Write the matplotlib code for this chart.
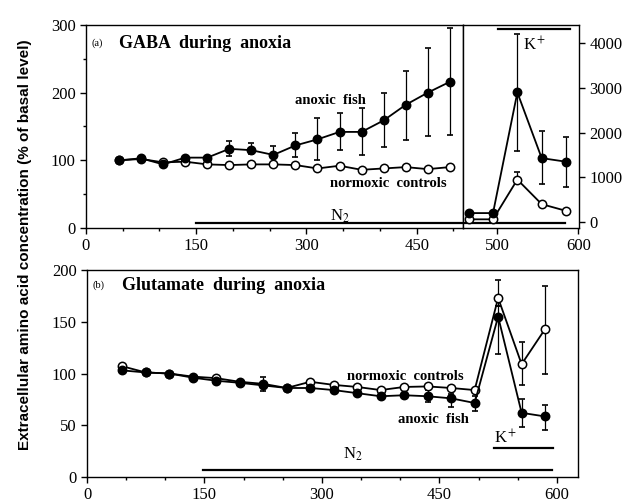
import numpy as np
import matplotlib
matplotlib.use("Agg")
import matplotlib.pyplot as plt
from matplotlib.ticker import MultipleLocator

plt.rcParams['font.family'] = ['Liberation Serif', 'DejaVu Serif']
plt.rcParams['mathtext.fontset'] = 'stix'

# --- GABA (top), time in minutes
t_gaba = [45, 75, 105, 135, 165, 195, 225, 255, 285, 315, 345, 375, 405, 435, 465, 495]
gaba_anoxic = [100, 103, 94, 104, 104, 117, 115, 108, 122, 131, 142, 142, 159, 182, 200, 216]
gaba_anoxic_hi = [np.nan] * 5 + [129, 125, 121, 140, 162, 170, 178, 199, 232, 266, 296]
gaba_anoxic_lo = [np.nan] * 5 + [107, 109, 103, 105, 101, 115, 108, 120, 130, 136, 137]
gaba_normoxic = [100, 102, 97, 98, 94, 93, 94, 94, 93, 88, 92, 86, 88, 90, 87, 90]

# GABA during K+ (right inset, different scale)
t_k = [465, 495, 525, 555, 585]
gaba_k_anoxic = [200, 200, 2900, 1430, 1350]
gaba_k_anoxic_hi = [np.nan, np.nan, 4200, 2030, 1900]
gaba_k_anoxic_lo = [np.nan, np.nan, 1600, 850, 790]
gaba_k_normoxic = [60, 60, 950, 400, 250]
gaba_k_normoxic_hi = [np.nan, np.nan, 1120, np.nan, np.nan]
gaba_k_normoxic_lo = [np.nan, np.nan, 950, np.nan, np.nan]

# --- Glutamate (bottom)
t_glu = [45, 75, 105, 135, 165, 195, 225, 255, 285, 315, 345, 375, 405, 435, 465, 495, 525, 555, 585]
glu_normoxic = [107, 101, 100, 97, 95.5, 92, 90, 86, 92, 89, 87, 84, 87, 87.5, 86, 84, 173, 109, 143]
glu_normoxic_hi = [np.nan] * 16 + [190, 130, 185]
glu_normoxic_lo = [np.nan] * 16 + [165, 89, 100]
glu_anoxic = [103, 101, 100, 96, 93, 91, 88.5, 86, 86, 84, 81, 78, 79, 78, 76, 71.5, 155, 62, 58.5]
glu_anoxic_hi = [np.nan] * 6 + [96.5] + [np.nan] * 6 + [84, 80, 78, 165, 75.5, 70]
glu_anoxic_lo = [np.nan] * 6 + [83] + [np.nan] * 6 + [72, 67.5, 64, 119, 48, 45]

n2_top = (150, 584)
n2_bottom = (148, 594)
k_top = (501, 590)
k_bottom = (520, 595)


def series(ax, t, y, hi, lo, filled):
    t = np.array(t, float); y = np.array(y, float)
    hi = np.array(hi, float); lo = np.array(lo, float)
    m = ~np.isnan(hi)
    ax.errorbar(t[m], y[m], yerr=[y[m] - lo[m], hi[m] - y[m]], fmt='none',
                ecolor='black', elinewidth=0.9, capsize=2.5, capthick=1.2, zorder=2)
    ax.plot(t, y, '-o', color='black', lw=1.3, ms=6,
            mfc='black' if filled else 'white', mec='black', mew=1.1, zorder=3)


def style(ax):
    for s in ax.spines.values():
        s.set_linewidth(1.0)
    ax.tick_params(which='both', direction='out', labelsize=12, width=1.0)
    ax.tick_params(which='major', length=4)
    ax.tick_params(which='minor', length=2.5)


fig = plt.figure(figsize=(6.24, 5.04), dpi=100)

# top left
ax1 = fig.add_axes([86/624, 1 - 228/504, 377/624, 203/504])
series(ax1, t_gaba, gaba_normoxic, [np.nan]*16, [np.nan]*16, False)
series(ax1, t_gaba, gaba_anoxic, gaba_anoxic_hi, gaba_anoxic_lo, True)
ax1.set_xlim(0, 513)
ax1.set_ylim(0, 300)
ax1.set_xticks([0, 150, 300, 450])
ax1.xaxis.set_minor_locator(MultipleLocator(50))
ax1.set_yticks([0, 100, 200, 300])
ax1.yaxis.set_minor_locator(MultipleLocator(50))
ax1.plot([n2_top[0], 513], [7, 7], color='black', lw=1.6, clip_on=False)
ax1.text(345, 18, 'N$_2$', fontsize=12, ha='center', va='center')
ax1.text(8, 273, '(a)', fontsize=7.5, va='center')
ax1.text(45, 273, 'GABA  during  anoxia', fontsize=13, fontweight='bold', va='center')
ax1.text(333, 189, 'anoxic  fish', fontsize=10.5, fontweight='bold', ha='center', va='center')
ax1.text(411, 66, 'normoxic  controls', fontsize=10.5, fontweight='bold', ha='center', va='center')
style(ax1)

# top right
ax2 = fig.add_axes([463/624, 1 - 228/504, 116/624, 203/504])
series(ax2, t_k, gaba_k_normoxic, gaba_k_normoxic_hi, gaba_k_normoxic_lo, False)
series(ax2, t_k, gaba_k_anoxic, gaba_k_anoxic_hi, gaba_k_anoxic_lo, True)
ax2.set_xlim(458, 601)
ax2.set_ylim(-134, 4410)
ax2.set_xticks([500, 600])
ax2.set_yticks([0, 1000, 2000, 3000, 4000])
ax2.yaxis.tick_right()
ax2.plot([458, n2_top[1]], [-20, -20], color='black', lw=1.6)
ax2.plot(list(k_top), [4320, 4320], color='black', lw=1.6)
ax2.text(546, 3950, 'K$^+$', fontsize=12, ha='center', va='center')
style(ax2)

# bottom
ax3 = fig.add_axes([87/624, 1 - 477/504, 491/624, 207/504])
series(ax3, t_glu, glu_normoxic, glu_normoxic_hi, glu_normoxic_lo, False)
series(ax3, t_glu, glu_anoxic, glu_anoxic_hi, glu_anoxic_lo, True)
ax3.set_xlim(0, 627)
ax3.set_ylim(0, 200)
ax3.set_xticks([0, 150, 300, 450, 600])
ax3.xaxis.set_minor_locator(MultipleLocator(50))
ax3.set_yticks([0, 50, 100, 150, 200])
ax3.plot(list(n2_bottom), [7, 7], color='black', lw=1.6)
ax3.text(340, 22, 'N$_2$', fontsize=12, ha='center', va='center')
ax3.plot(list(k_bottom), [28, 28], color='black', lw=1.6)
ax3.text(535, 38, 'K$^+$', fontsize=12, ha='center', va='center')
ax3.text(7, 185, '(b)', fontsize=7.5, va='center')
ax3.text(45, 185, 'Glutamate  during  anoxia', fontsize=13, fontweight='bold', va='center')
ax3.text(406, 97, 'normoxic  controls', fontsize=10.5, fontweight='bold', ha='center', va='center')
ax3.text(442, 56, 'anoxic  fish', fontsize=10.5, fontweight='bold', ha='center', va='center')
style(ax3)

fig.text(25/624, 1 - 245/504, 'Extracellular amino acid concentration (% of basal level)',
         rotation=90, ha='center', va='center', fontsize=11, fontweight='bold',
         family=['Liberation Sans', 'DejaVu Sans'])

fig.savefig('out.png', dpi=100)
